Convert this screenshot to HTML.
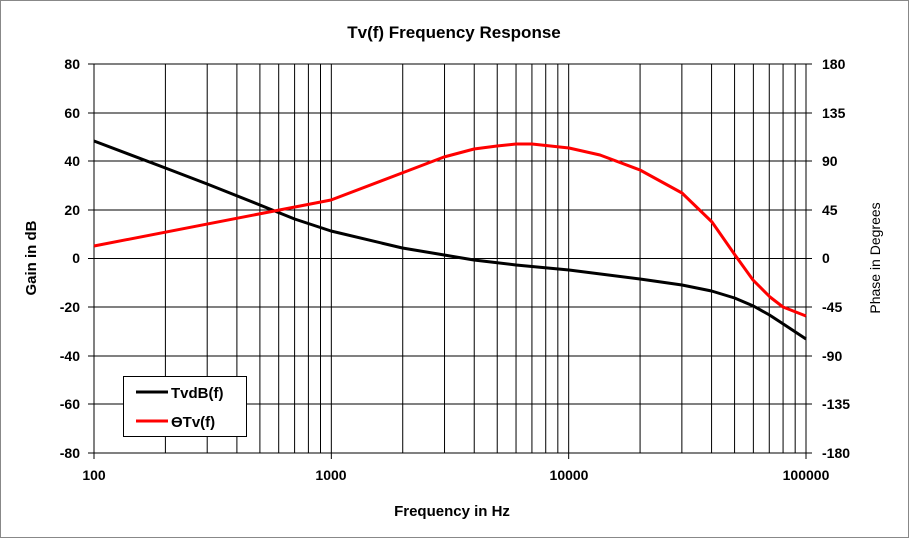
<!DOCTYPE html>
<html><head><meta charset="utf-8"><style>
html,body{margin:0;padding:0;background:#fff}
svg{display:block}
text{font-family:"Liberation Sans",Arial,sans-serif;font-weight:bold;fill:#000}
</style></head><body>
<svg width="909" height="538" viewBox="0 0 909 538" xmlns="http://www.w3.org/2000/svg">
<rect x="0.5" y="0.5" width="908" height="537" fill="#fff" stroke="#888"/>
<text x="454" y="38" font-size="17" text-anchor="middle">Tv(f) Frequency Response</text>
<g stroke="#000" stroke-width="1">
<!-- horizontal grid -->
<line x1="88" y1="64" x2="812" y2="64"/>
<line x1="88" y1="113" x2="812" y2="113"/>
<line x1="88" y1="161" x2="812" y2="161"/>
<line x1="88" y1="210" x2="812" y2="210"/>
<line x1="88" y1="258.5" x2="812" y2="258.5"/>
<line x1="88" y1="307" x2="812" y2="307"/>
<line x1="88" y1="356" x2="812" y2="356"/>
<line x1="88" y1="404" x2="812" y2="404"/>
<line x1="88" y1="453" x2="812" y2="453"/>
<!-- vertical grid -->
<g id="dec">
<line x1="94" y1="64" x2="94" y2="459"/>
<line x1="165.4" y1="64" x2="165.4" y2="453"/>
<line x1="207.2" y1="64" x2="207.2" y2="453"/>
<line x1="236.9" y1="64" x2="236.9" y2="453"/>
<line x1="259.9" y1="64" x2="259.9" y2="453"/>
<line x1="278.7" y1="64" x2="278.7" y2="453"/>
<line x1="294.6" y1="64" x2="294.6" y2="453"/>
<line x1="308.4" y1="64" x2="308.4" y2="453"/>
<line x1="320.5" y1="64" x2="320.5" y2="453"/>
</g>
<use href="#dec" x="237.33"/>
<use href="#dec" x="474.67"/>
<line x1="806" y1="64" x2="806" y2="459"/>
</g>
<g font-size="14">
<text x="80" y="69" text-anchor="end">80</text>
<text x="80" y="118" text-anchor="end">60</text>
<text x="80" y="166" text-anchor="end">40</text>
<text x="80" y="215" text-anchor="end">20</text>
<text x="80" y="263" text-anchor="end">0</text>
<text x="80" y="312" text-anchor="end">-20</text>
<text x="80" y="361" text-anchor="end">-40</text>
<text x="80" y="409" text-anchor="end">-60</text>
<text x="80" y="458" text-anchor="end">-80</text>
<text x="822" y="69">180</text>
<text x="822" y="118">135</text>
<text x="822" y="166">90</text>
<text x="822" y="215">45</text>
<text x="822" y="263">0</text>
<text x="822" y="312">-45</text>
<text x="822" y="361">-90</text>
<text x="822" y="409">-135</text>
<text x="822" y="458">-180</text>
<text x="94" y="480" text-anchor="middle">100</text>
<text x="331" y="480" text-anchor="middle">1000</text>
<text x="569" y="480" text-anchor="middle">10000</text>
<text x="806" y="480" text-anchor="middle">100000</text>
<text x="452" y="516" font-size="15" text-anchor="middle">Frequency in Hz</text>
<text transform="translate(36,258) rotate(-90)" font-size="15" text-anchor="middle">Gain in dB</text>
<text transform="translate(880,258) rotate(-90)" font-size="14" font-weight="normal" text-anchor="middle" style="font-weight:normal">Phase in Degrees</text>
</g>
<polyline fill="none" stroke="#000" stroke-width="3" stroke-linejoin="round" points="94,141 165.4,168 207.2,184 259.9,205 294.6,219 331,231 402.4,248 444.2,255 473.9,260 516,265 569,270 640,279 682,285 711.6,291 734.6,298 753.4,306 769.5,315 783.3,324 806,339"/>
<polyline fill="none" stroke="#f00" stroke-width="3" stroke-linejoin="round" points="94,246 331,200 402,173 444,157 474,149 497,146 516,144 532,144 569,148 600,155 640,170 682,193 712,222 735,255 753,280 770,297 783,307 806,316"/>
<rect x="123.5" y="376.5" width="123" height="60" fill="#fff" stroke="#000"/>
<line x1="136" y1="392" x2="168" y2="392" stroke="#000" stroke-width="3"/>
<line x1="136" y1="421" x2="168" y2="421" stroke="#f00" stroke-width="3"/>
<text x="171" y="398" font-size="15">TvdB(f)</text>
<text x="171" y="427" font-size="15">ϴTv(f)</text>
</svg>
</body></html>
